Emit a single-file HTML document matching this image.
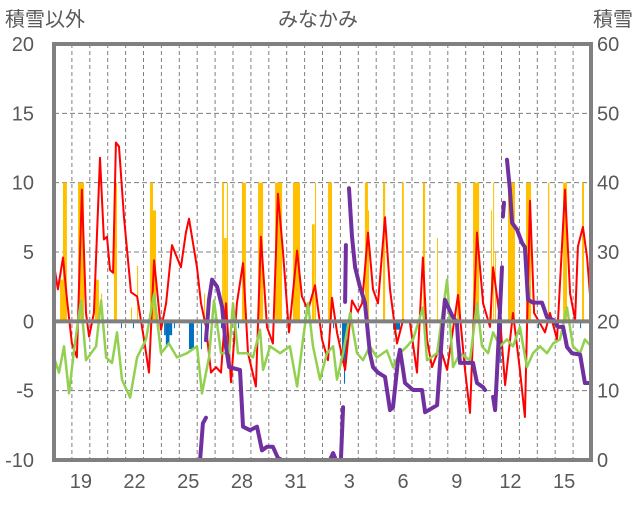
<!DOCTYPE html>
<html><head><meta charset="utf-8"><style>
body{margin:0;background:#fff;width:636px;height:501px;overflow:hidden}
svg text{font-family:"Liberation Sans","Noto Sans CJK JP",sans-serif;fill:#595959}
</style></head><body>
<svg id="chart" width="636" height="501" xmlns="http://www.w3.org/2000/svg">
<text x="5" y="26" font-size="20">積雪以外</text>
<text x="318" y="26" font-size="20" text-anchor="middle">みなかみ</text>
<text x="633" y="26" font-size="20" text-anchor="end">積雪</text>
<g id="grid"></g>
<g id="bars"></g>
<g id="lines"></g>
<g id="axes"></g>
</svg>
<script>
const leftTicks=[20,15,10,5,0,-5,-10];
const rightTicks=[60,50,40,30,20,10,0];
const xTickDays=[1,4,7,10,13,16,19,22,25,28];
const xTickLabels=["19","22","25","28","31","3","6","9","12","15"];
const yellowStart=[0.34,0.5,1.34,2.29,2.63,3.35,4.3,4.64,5.36,5.53,8.38,9.39,9.5,9.66,10.5,11.4,12.35,13.35,14.41,14.58,15.31,17.37,17.54,18.38,19.44,20.61,21.4,22.51,23.41,24.41,24.53,24.64,25.36,26.37,27.6,28.44,29.5];
const yellowDur=[0.16,0.22,0.34,0.22,0.06,0.17,0.06,0.06,0.17,0.17,0.06,0.1,0.15,0.06,0.22,0.28,0.39,0.39,0.15,0.06,0.22,0.17,0.06,0.12,0.1,0.12,0.05,0.22,0.34,0.05,0.05,0.05,0.39,0.28,0.07,0.22,0.11];
const yellowVal=[3,10,10,3,2,10,1,4,10,8,2,10,6,10,10,10,10,10,7,10,10,10,8,10,10,10,6,10,10,8,10,5,10,10,10,10,10];
const blueStart=[3.74,4.41,6.15,6.25,6.45,6.7,7.54,8.21,8.49,9.33,10.28,15.59,16.09,16.2,18.94,21.56,24.75,24.9,27.04,29.39];
const blueDur=[0.05,0.05,0.1,0.2,0.15,0.05,0.28,0.05,0.05,0.05,0.05,0.05,0.28,0.06,0.39,0.17,0.28,0.06,0.05,0.05];
const blueVal=[-0.5,-0.5,-1,-1.7,-1,-0.5,-2,-2,-1.5,-0.5,-0.5,-0.5,-3,-4.5,-0.6,-1.2,-2,-3,-0.5,-0.5];
const redT=[0,0.22,0.5,0.73,1,1.28,1.56,1.79,1.96,2.23,2.57,2.79,2.96,3.13,3.3,3.46,3.63,3.91,4.3,4.64,5.03,5.31,5.59,5.98,6.26,6.59,7.09,7.37,7.54,7.99,8.21,8.49,8.77,9.05,9.33,9.61,9.89,10.22,10.56,10.84,11.28,11.56,11.9,12.23,12.51,12.79,13.13,13.58,13.85,14.19,14.58,14.97,15.31,15.53,15.81,16.26,16.65,16.98,17.21,17.54,17.82,18.1,18.49,18.77,19.16,19.5,19.89,20.28,20.61,20.84,21.12,21.56,21.96,22.57,22.96,23.24,23.63,23.97,24.36,24.53,24.92,25.2,25.64,26.03,26.31,26.59,26.82,27.26,27.43,27.71,28.1,28.55,28.83,29.11,29.27,29.55,29.78,30];
const redV=[4.1,2.3,4.6,1.5,-1.6,-2.6,9.5,0.6,-1.1,0.6,11.8,5.9,6.1,3.7,3.5,12.9,12.6,7.5,2.1,1.8,-1.3,-3.7,4.4,-0.6,1.3,5.5,3.9,6.4,7.4,3.9,1.3,-0.4,-3.7,-3.3,-3.7,1.3,-4.4,1.3,4.2,-2.3,-4.7,6.1,-0.4,-1.6,9.2,5.1,-0.8,5.1,1.8,0.8,2.6,-1.3,-2.8,1.7,-0.8,-3.5,1.5,0.7,1.3,6.4,2.3,1.3,7.5,2.3,-1.6,0.1,-0.1,-3.7,4.6,-1.3,-3.3,-1.8,-3.5,1.9,-3.5,-6.6,6.4,1.3,-0.4,3.9,0.1,-4.6,0.6,-3.5,-6.9,8.7,0.6,-0.4,-0.8,0.6,-1.3,9.5,2.0,0.1,5.4,6.8,4.6,1.0];
const greenT=[0,0.28,0.56,0.84,1.12,1.51,1.79,2.07,2.35,2.63,2.91,3.24,3.52,3.8,4.25,4.64,5.14,5.59,5.98,6.42,6.87,7.43,7.99,8.27,8.66,8.94,9.33,9.78,10,10.28,10.78,11.12,11.51,11.68,12.07,12.63,13.18,13.58,13.91,14.19,14.47,14.86,15.25,15.59,15.81,16.15,16.54,16.93,17.26,17.65,18.04,18.6,18.94,19.33,19.72,20.06,20.61,20.84,21.4,21.96,22.29,22.68,23.24,23.63,23.91,24.25,24.53,24.92,25.31,25.64,26.03,26.42,26.76,27.15,27.54,27.88,28.27,28.66,28.99,29.39,29.66,30];
const greenV=[-2.6,-3.7,-1.8,-5.2,-2.1,1.5,-2.8,-2.3,-1.8,1.5,-2.6,-3.0,-0.8,-4.2,-5.5,-2.6,-1.3,2.0,-2.3,-1.6,-2.6,-2.3,-1.8,-5.2,-2.6,1.5,-2.3,-2.3,1.3,-2.3,-2.3,-2.6,-0.6,-3.5,-1.8,-2.3,-1.8,-4.7,-1.3,1.3,-1.8,-4.2,-2.3,-1.8,-4.2,-2.3,0.6,-2.3,-2.8,-1.8,-2.6,-2.1,-3.3,-2.3,-1.8,-1.3,1.0,-2.8,-2.3,3.0,-3.3,-2.3,-2.8,1.3,-1.8,-2.3,-0.8,-1.8,-1.3,-1.8,-0.4,-3.3,-2.3,-1.8,-2.3,-1.6,-1.3,1.0,-1.8,-2.3,-1.3,-1.8];
const snowSegT=[
[0,8.16,8.32,8.49],
[8.49,8.66,8.83,9.11,9.39,9.61,9.78,10.39,10.56,10.95,11.34,11.62,11.9,12.23,12.51,12.74,15.42,15.59,15.75,16.03,16.15],
[16.26,16.31],
[16.48,16.65,16.82,17.09,17.37,17.65,17.82,18.1,18.49,18.77,18.94,19.22,19.33,19.5,19.61,20.06,20.56,20.73,21.4,21.68,21.84,22.01,22.29,22.51,22.57,22.68,23.41,23.63,23.97,24.08],
[24.53,24.64,24.75,25.03],
[25.08,25.14],
[25.31,25.47,25.59,25.87,26.15,26.31,26.48,26.76,27.26,27.54,27.88,28.16,28.44,28.66,28.94,29.39,29.66,30]];
const snowSegV=[
[0,0,5.3,6.1],
[17.3,23.1,26.0,25.0,22.1,16.3,13.4,13.0,4.8,4.3,4.8,1.4,1.9,1.9,0.3,0,0,1,0,0,7.6],
[22.8,31.0],
[39.2,32.2,27.8,25.0,22.7,15.4,13.4,12.6,12.0,7.2,7.6,14.4,15.9,13.0,11.1,10.1,10.1,6.9,7.9,18.3,23.1,22.1,20.6,19.8,17.3,14.0,14.0,11.1,10.5,10.1],
[9.1,7.2,12.6,27.8],
[35.1,37.1],
[43.3,39.0,34.2,33.2,31.3,30.7,23.1,22.7,22.7,20.6,20.2,19.2,19.2,16.3,15.4,15.2,11.1,11.1]];

const X0=54,X1=591,Y0=44,Y1=460,DAYS=30;
const xs=t=>X0+t/DAYS*(X1-X0);
const yl=v=>Y1-(v+10)/30*(Y1-Y0);
const yr=s=>Y1-s/60*(Y1-Y0);
const NS="http://www.w3.org/2000/svg";
function mk(tag,attrs,parent){const e=document.createElementNS(NS,tag);for(const k in attrs)e.setAttribute(k,attrs[k]);parent.appendChild(e);return e;}
const grid=document.getElementById('grid'),bars=document.getElementById('bars'),lines=document.getElementById('lines'),axes=document.getElementById('axes');
for(let d=1;d<DAYS;d++){const l=mk('line',{x1:xs(d),x2:xs(d),y1:Y0,y2:Y1,stroke:'#7f7f7f','stroke-width':1,'stroke-dasharray':'4,3'},grid);

}
leftTicks.forEach((v,i)=>{
 if(v!==0&&v!==20&&v!==-10){const l=mk('line',{x1:X0,x2:X1,y1:yl(v),y2:yl(v),stroke:'#7f7f7f','stroke-width':1,'stroke-dasharray':'5,3'},grid);
 
 }
 const t=mk('text',{x:34,y:yl(v)+7,'font-size':20,'text-anchor':'end'},axes);t.textContent=String(v);
 
 
});
rightTicks.forEach(s=>{const t=mk('text',{x:597,y:yr(s)+7,'font-size':20},axes);t.textContent=String(s);
 
 });
xTickDays.forEach((d,i)=>{const t=mk('text',{x:xs(d+0.5),y:488,'font-size':20,'text-anchor':'middle'},axes);t.textContent=xTickLabels[i];
 
 });
yellowStart.forEach((s,i)=>{const x=xs(s),w=Math.max(1,xs(s+yellowDur[i])-x);const r=mk('rect',{x:x,y:yl(yellowVal[i]),width:w,height:yl(0)-yl(yellowVal[i]),fill:'#ffc000'},bars);
 
 });
blueStart.forEach((s,i)=>{const x=xs(s),w=Math.max(1,xs(s+blueDur[i])-x);const r=mk('rect',{x:x,y:yl(0),width:w,height:yl(blueVal[i])-yl(0),fill:'#0070c0'},bars);
 
 });
function poly(T,V,f,color,w,name){const p=mk('polyline',{points:T.map((t,i)=>xs(t).toFixed(1)+','+f(V[i]).toFixed(1)).join(' '),fill:'none',stroke:color,'stroke-width':w,'stroke-linejoin':'round','stroke-linecap':'round'},lines);
 
 }
poly(redT,redV,yl,'#ff0000',2,'red-line');
poly(greenT,greenV,yl,'#92d050',2.5,'green-line');
snowSegT.forEach((T,k)=>poly(T,snowSegV[k],yr,'#7030a0',4,'snow-depth-line'));
const z=mk('line',{x1:X0,x2:X1,y1:yl(0),y2:yl(0),stroke:'#808080','stroke-width':4},axes);


const f=mk('rect',{x:X0,y:Y0,width:X1-X0,height:Y1-Y0,fill:'none',stroke:'#808080','stroke-width':4},axes);


</script>
</body></html>
